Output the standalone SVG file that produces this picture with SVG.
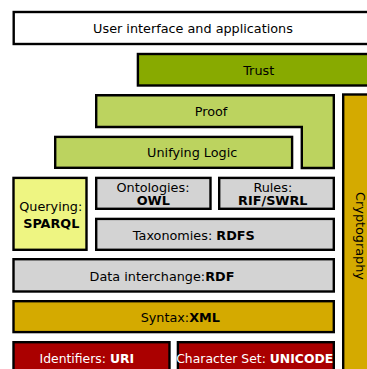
<svg xmlns="http://www.w3.org/2000/svg" width="367" height="369" viewBox="0 0 367 369">
  <style>
    .box { stroke: #000; stroke-width: 2.4; }
    .white { fill: #ffffff; }
    .trust { fill: #88aa00; }
    .logic { fill: #bcd35f; }
    .query { fill: #eef582; }
    .gray { fill: #d3d3d3; }
    .gold { fill: #d4aa00; }
    .red { fill: #aa0000; }
    text { font-family: "DejaVu Sans", sans-serif; font-size: 12.8px; fill: #000; text-anchor: middle; }
    .b { font-weight: bold; }
    .light { font-size: 12.4px; }
    .light, .light tspan { fill: #ffffff; }
  </style>

  <g id="user-interface">
    <rect class="box white" x="13.7" y="12" width="360" height="32"/>
    <text x="193" y="32.6">User interface and applications</text>
  </g>

  <g id="trust">
    <rect class="box trust" x="137.9" y="54" width="240" height="31.5"/>
    <text x="258.7" y="74.6">Trust</text>
  </g>

  <g id="cryptography">
    <rect class="box gold" x="343.2" y="94.5" width="40" height="290"/>
    <text transform="translate(356,236) rotate(90)" x="0" y="0">Cryptography</text>
  </g>

  <g id="proof">
    <path class="box logic" d="M96.2,95.2 H333.8 V168 H301.8 V127 H96.2 Z"/>
    <text x="211" y="115.6">Proof</text>
  </g>

  <g id="unifying-logic">
    <rect class="box logic" x="55.2" y="136.9" width="236.9" height="30.9"/>
    <text x="192.2" y="157">Unifying Logic</text>
  </g>

  <g id="querying">
    <rect class="box query" x="13.5" y="177.9" width="73" height="71.9"/>
    <text x="50.8" y="210.5">Querying:</text>
    <text class="b" x="51.3" y="228">SPARQL</text>
  </g>

  <g id="ontologies">
    <rect class="box gray" x="96.2" y="177.9" width="114.3" height="30.9"/>
    <text x="153" y="191.5">Ontologies:</text>
    <text class="b" x="153.3" y="205">OWL</text>
  </g>

  <g id="rules">
    <rect class="box gray" x="219.2" y="177.9" width="114.6" height="30.9"/>
    <text x="272.8" y="191.5">Rules:</text>
    <text class="b" x="272.8" y="205">RIF/SWRL</text>
  </g>

  <g id="taxonomies">
    <rect class="box gray" x="96.2" y="218.9" width="237.6" height="30.9"/>
    <text x="193.8" y="239.6">Taxonomies: <tspan class="b">RDFS</tspan></text>
  </g>

  <g id="data-interchange">
    <rect class="box gray" x="13.5" y="259.2" width="320.3" height="32.3"/>
    <text x="162" y="280.6">Data interchange:<tspan class="b">RDF</tspan></text>
  </g>

  <g id="syntax">
    <rect class="box gold" x="13.5" y="301.2" width="320.3" height="30.9"/>
    <text x="180.3" y="321.6">Syntax:<tspan class="b">XML</tspan></text>
  </g>

  <g id="identifiers">
    <rect class="box red" x="13.5" y="342.2" width="156" height="40"/>
    <text class="light" x="86.8" y="363.3">Identifiers: <tspan class="b">URI</tspan></text>
  </g>

  <g id="character-set">
    <rect class="box red" x="177.9" y="342.2" width="155.9" height="40"/>
    <text class="light" x="254.7" y="363.3">Character Set: <tspan class="b">UNICODE</tspan></text>
  </g>

  <g id="connectors"></g>
</svg>
